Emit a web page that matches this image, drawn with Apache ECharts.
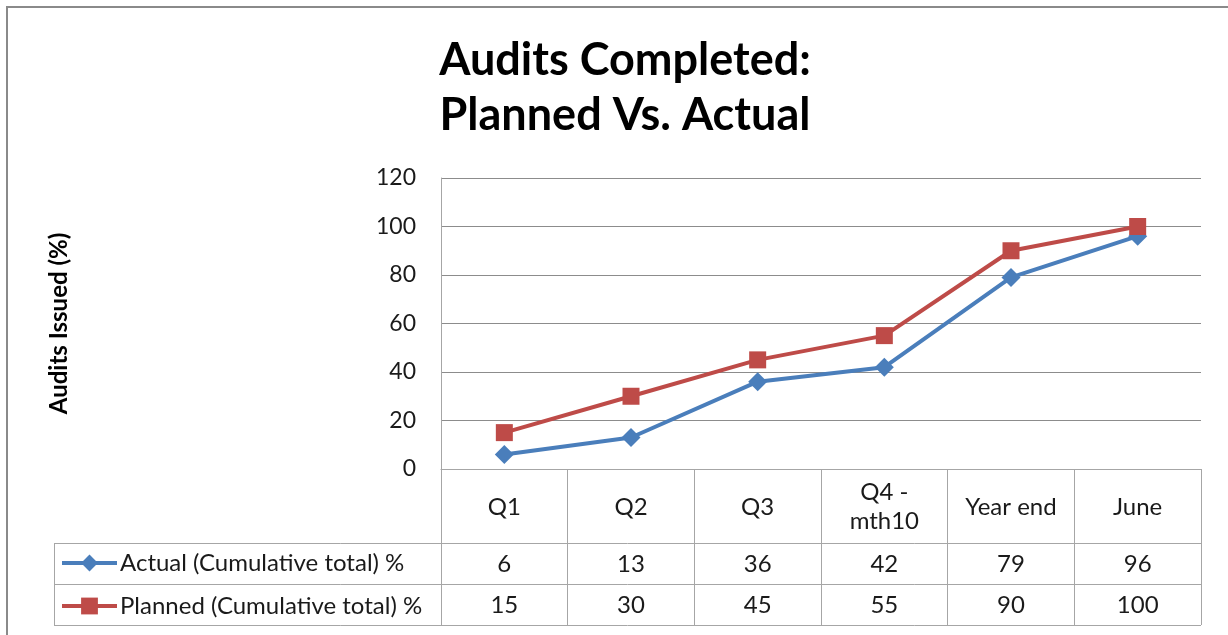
<!DOCTYPE html>
<html><head><meta charset="utf-8">
<script src="https://cdn.jsdelivr.net/npm/echarts@6/dist/echarts.min.js"></script>
<style>html,body{margin:0;padding:0;background:#fff}#c{width:1228px;height:635px}</style>
</head><body><div id="c"></div>
<script>
const categories = ['Q1', 'Q2', 'Q3', 'Q4 -\nmth10', 'Year end', 'June'];
const actual = [6, 13, 36, 42, 79, 96];
const planned = [15, 30, 45, 55, 90, 100];
const seriesNames = ['Actual (Cumulative total) %', 'Planned (Cumulative total) %'];
const yTicks = { min: 0, max: 120, interval: 20 };
const titleText = 'Audits Completed:\nPlanned Vs. Actual';
const yAxisTitle = 'Audits Issued (%)';

const FONT = 'Lato, "Open Sans", sans-serif';
const GRID = { left: 441, top: 178, width: 760, height: 291 };
const gridBottom = GRID.top + GRID.height;
const lineColor = '#a6a6a6';
const tableLeft = 54, tableRight = GRID.left + GRID.width;
const rowYs = [543, 584, 625];
const FS = 24;

const chart = echarts.init(document.getElementById('c'), null, { renderer: 'canvas' });
chart.setOption({
  animation: false,
  backgroundColor: '#fff',
  title: {
    text: titleText, left: 620, top: 28, textAlign: 'center',
    textStyle: { fontFamily: FONT, fontWeight: 'bold', fontSize: 45, lineHeight: 55, color: '#000' }
  },
  legend: {
    orient: 'vertical', left: 55, top: 546, itemGap: 19, itemWidth: 55, itemHeight: 21,
    data: seriesNames,
    lineStyle: { width: 4 },
    textStyle: { fontFamily: FONT, fontSize: FS, lineHeight: 24, color: '#1a1a1a', padding: [0, 0, 0, -2] }
  },
  grid: GRID,
  xAxis: [
    {
      type: 'category', data: categories, boundaryGap: true,
      axisLine: { show: true, lineStyle: { color: lineColor, width: 1 } },
      axisTick: { show: true, length: rowYs[2] - gridBottom, lineStyle: { color: lineColor } },
      axisLabel: { fontFamily: FONT, fontSize: FS, lineHeight: 29, color: '#1a1a1a', margin: 38, verticalAlign: 'middle', interval: 0 }
    },
    {
      type: 'category', data: categories, boundaryGap: true, position: 'bottom',
      axisLine: { show: false }, axisTick: { show: false }, splitLine: { show: false },
      axisLabel: { fontFamily: FONT, fontSize: FS, color: '#1a1a1a', margin: 95, verticalAlign: 'middle', interval: 0,
        formatter: (v, i) => String(actual[i]) }
    },
    {
      type: 'category', data: categories, boundaryGap: true, position: 'bottom',
      axisLine: { show: false }, axisTick: { show: false }, splitLine: { show: false },
      axisLabel: { fontFamily: FONT, fontSize: FS, color: '#1a1a1a', margin: 136, verticalAlign: 'middle', interval: 0,
        formatter: (v, i) => String(planned[i]) }
    }
  ],
  yAxis: {
    type: 'value', min: yTicks.min, max: yTicks.max, interval: yTicks.interval,
    name: yAxisTitle, nameLocation: 'middle', nameRotate: 90, nameGap: 370,
    nameTextStyle: { fontFamily: FONT, fontWeight: 'bold', fontSize: 24, color: '#000' },
    axisLine: { show: true, lineStyle: { color: lineColor } },
    axisTick: { show: false },
    axisLabel: { fontFamily: FONT, fontSize: 23, color: '#1a1a1a', margin: 25 },
    splitLine: { lineStyle: { color: '#8c8c8c', width: 1 } }
  },
  series: [
    {
      name: seriesNames[0], type: 'line', data: actual,
      symbol: 'diamond', symbolSize: 19,
      lineStyle: { color: '#4a7ebb', width: 4 }, itemStyle: { color: '#4a7ebb' }
    },
    {
      name: seriesNames[1], type: 'line', data: planned,
      symbol: 'rect', symbolSize: 17,
      lineStyle: { color: '#be4b48', width: 4 }, itemStyle: { color: '#be4b48' }
    }
  ],
  graphic: [
    { type: 'rect', shape: { x: 7, y: 7, width: 1240, height: 660 }, style: { fill: null, stroke: '#8a8a8a', lineWidth: 2 }, silent: true },
    ...rowYs.map(y => ({ type: 'line', shape: { x1: tableLeft, y1: y + 0.5, x2: tableRight, y2: y + 0.5 }, style: { stroke: lineColor, lineWidth: 1 }, silent: true })),
    { type: 'line', shape: { x1: tableLeft + 0.5, y1: rowYs[0], x2: tableLeft + 0.5, y2: rowYs[2] }, style: { stroke: lineColor, lineWidth: 1 }, silent: true }
  ]
});
</script></body></html>
